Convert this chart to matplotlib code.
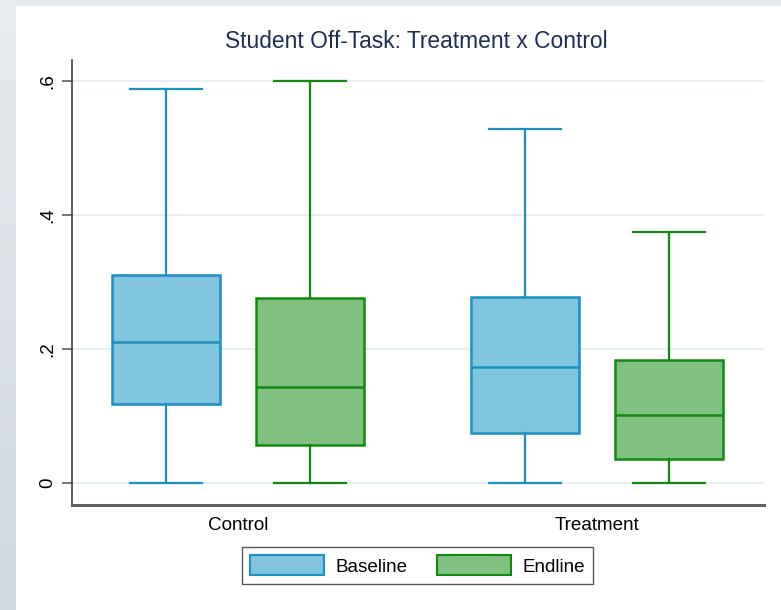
import numpy as np
import matplotlib
matplotlib.use("Agg")
import matplotlib.pyplot as plt
from matplotlib.patches import Patch, Rectangle

plt.rcParams["font.family"] = ["Liberation Sans", "DejaVu Sans"]

# Box-plot summaries (share of time students are off-task)
groups = ["Control", "Treatment"]
series = ["Baseline", "Endline"]
q_low = {"Baseline": [0.0, 0.0], "Endline": [0.0, 0.0]}
q1 = {"Baseline": [0.118, 0.075], "Endline": [0.057, 0.036]}
med = {"Baseline": [0.211, 0.173], "Endline": [0.143, 0.102]}
q3 = {"Baseline": [0.311, 0.278], "Endline": [0.276, 0.184]}
q_high = {"Baseline": [0.589, 0.529], "Endline": [0.601, 0.375]}
yticks = [0, 0.2, 0.4, 0.6]
ytick_labels = ["0", ".2", ".4", ".6"]

fills = {"Baseline": "#80c4de", "Endline": "#80c080"}
edges = {"Baseline": "#1a8fc1", "Endline": "#128a12"}
offsets = {"Baseline": -0.2, "Endline": 0.2}

W, H = 781, 610
fig = plt.figure(figsize=(W / 100, H / 100), dpi=100)

# Backdrop: soft grey-blue gradient with a white page on top
bg = fig.add_axes([0, 0, 1, 1], zorder=-10)
grad = np.linspace(0, 1, 256).reshape(-1, 1)
top_c = np.array([0.902, 0.925, 0.937])
bot_c = np.array([0.812, 0.851, 0.878])
img = top_c + (bot_c - top_c) * grad[..., None]
img = np.repeat(img, 2, axis=1)
bg.imshow(img, aspect="auto", extent=[0, 1, 0, 1], origin="upper")
bg.add_patch(Rectangle((16 / W, 0), 1 - 16 / W, 1 - 6 / H, transform=bg.transAxes,
                       facecolor="white", edgecolor="none"))
bg.set_xlim(0, 1)
bg.set_ylim(0, 1)
bg.axis("off")

ax = fig.add_axes([72 / W, 1 - 505 / H, (764 - 72) / W, (505 - 60) / H])
ax.set_facecolor("none")

centers = np.arange(1, len(groups) + 1)
for s in series:
    stats = []
    for i, g in enumerate(groups):
        stats.append(dict(label=g, whislo=q_low[s][i], q1=q1[s][i], med=med[s][i],
                          q3=q3[s][i], whishi=q_high[s][i], fliers=[]))
    ec = edges[s]
    ax.bxp(stats, positions=centers + offsets[s], widths=0.3, patch_artist=True,
           showfliers=False, manage_ticks=False,
           boxprops=dict(facecolor=fills[s], edgecolor=ec, linewidth=1.8),
           medianprops=dict(color=ec, linewidth=1.8),
           whiskerprops=dict(color=ec, linewidth=1.6),
           capprops=dict(color=ec, linewidth=1.6),
           capwidths=0.2, zorder=3)

ax.set_xlim(0.5376, 2.465)
ax.set_ylim(-0.0329, 0.632)

ax.set_yticks(yticks)
ax.set_yticklabels(ytick_labels, rotation=90, va="center", fontsize=13.6)
ax.yaxis.grid(True, color="#eaf0f2", linewidth=1.6, zorder=0)
ax.set_axisbelow(True)
ax.tick_params(axis="y", length=7, width=1.2, color="#606060", pad=4)

ax.set_xticks(centers)
ax.set_xticklabels(groups, fontsize=13.6)
ax.tick_params(axis="x", length=0, pad=9)

for side in ("top", "right"):
    ax.spines[side].set_visible(False)
ax.spines["left"].set_color("#404040")
ax.spines["left"].set_linewidth(1.2)
ax.spines["bottom"].set_color("#606060")
ax.spines["bottom"].set_linewidth(2.2)

fig.text(416.5 / W, 1 - 42 / H, "Student Off-Task: Treatment x Control",
         ha="center", va="center", fontsize=16.4, color="#1e2d52")

handles = [Patch(facecolor=fills[s], edgecolor=edges[s], linewidth=1.5, label=s)
           for s in series]
leg = fig.legend(handles=handles, loc="center", bbox_to_anchor=(417.5 / W, 1 - 565.5 / H),
                 ncol=2, fontsize=13.6, frameon=True, fancybox=False,
                 handlelength=3.9, handleheight=1.2, handletextpad=0.6,
                 columnspacing=1.6, borderpad=0.45)
leg.get_frame().set_edgecolor("#303030")
leg.get_frame().set_linewidth(1.0)

fig.savefig("out.png", dpi=100)
